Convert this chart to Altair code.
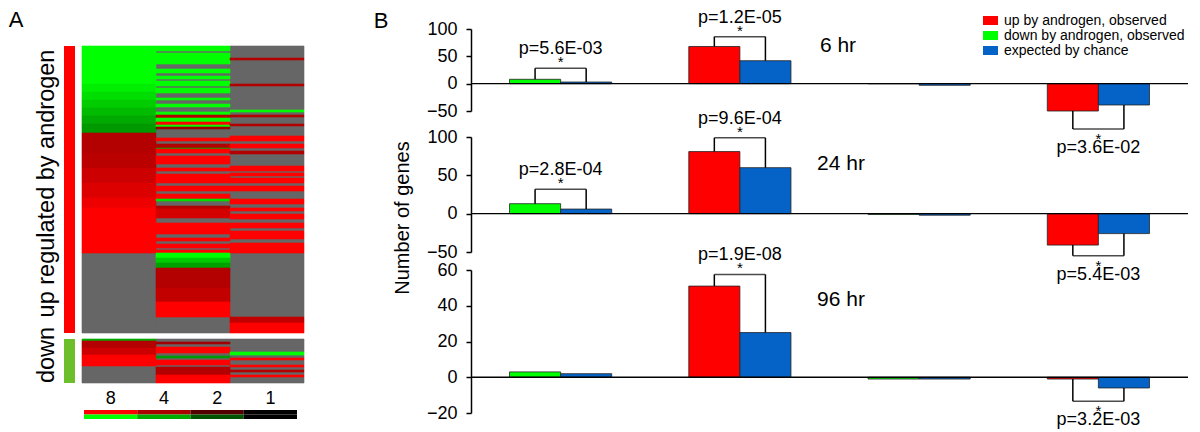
import altair as alt
import pandas as pd
import math

FONT = "Liberation Sans"

# ---------------- Panel A : heat map ----------------
heat_columns = ["6 hr", "24 hr", "96 hr"]
sections = ["up regulated by androgen", "down"]
section_colors = ["#ff0000", "#6cbf2a"]

# run-length encoded genes: (number of genes, log2 fold change; None = unchanged)
heat_up_6 = [(38, -3.0), (8, -2.8), (8, -2.6), (8, -2.4), (8, -2.2), (8, -2.0), (9, -1.8),
             (20, 2.1), (15, 2.2), (15, 2.4), (15, 2.6), (10, 2.8), (45, 3.0),
             (80, None)]
heat_up_24 = [(5, -3), (2, None), (11, -3), (5, None), (4, -3), (3, None), (3, -3), (2, None),
              (5, -3), (2, None), (5, -3), (5, None), (2, -3), (4, None), (3, -3), (5, None),
              (3, -3), (3, 2.1), (4, -3), (3, 3), (2, -3), (2, 1.8), (4, None),
              (5, None), (3, 3), (3, None), (4, 2.1), (1, -2), (4, 3), (3, None), (8, 3),
              (4, None), (3, 3), (3, None), (9, 3), (3, None), (5, 3), (3, None), (5, 3),
              (2, -2.6), (5, None), (3, 2.1), (9, 2.5), (5, None), (11, 3), (4, None), (3, 3),
              (3, None), (4, 3), (2, None), (3, 3),
              (5, -3), (5, -2.4), (5, -1.9), (20, 2.1), (14, 2.3), (15, 3), (16, None)]
heat_up_96 = [(12, None), (2, 2.1), (24, None), (2, 2.1), (24, None), (2, -3), (3, None),
              (2, 2.1), (7, None), (2, 2.1), (7, None),
              (3, None), (5, 3), (3, None), (4, 3), (3, None), (3, 2.1), (12, None), (5, 3),
              (2, None), (3, 3), (2, None), (5, 3), (3, None), (5, 3), (8, None), (5, 3),
              (4, None), (3, 3), (3, None), (5, 3), (4, None), (5, 3), (3, None), (8, 3),
              (4, None), (10, 3),
              (64, None), (6, 2.3), (10, 3)]
heat_dn_6 = [(2, -2.0), (7, 2.1), (7, 2.4), (11, 3), (17, None)]
heat_dn_24 = [(3, None), (2, 1.9), (3, None), (6, 3), (3, None), (2, -1.8), (2, None), (5, 3),
              (2, None), (8, 2.1), (8, 3)]
heat_dn_96 = [(13, None), (3, -3), (3, None), (2, 3), (5, None), (2, 3), (3, None), (2, 2.1),
              (3, None), (2, 3), (6, None)]

key_folds = [8, 4, 2, 1]
key_directions = ["up", "down"]

SECTION_GAP = 6    # blank rows between the two blocks
HEADER_ROWS = 17   # blank rows above the first gene (column titles)

heat_rows = []
section_rows = []
offset = 0
for sec, cols in [(sections[0], [heat_up_6, heat_up_24, heat_up_96]),
                  (sections[1], [heat_dn_6, heat_dn_24, heat_dn_96])]:
    n = sum(r[0] for r in cols[0])
    for col, runs in zip(heat_columns, cols):
        pos = offset
        for length, val in runs:
            heat_rows.append(dict(col=col, start=pos, end=pos + length,
                                  value=val if val is not None else 0.0,
                                  changed=val is not None))
            pos += length
    section_rows.append(dict(section=sec, start=offset, end=offset + n,
                             mid=offset + n / 2, ind="bar"))
    offset += n + SECTION_GAP
total_rows = offset - SECTION_GAP
heat_df = pd.DataFrame(heat_rows)
sec_df = pd.DataFrame(section_rows)

key_df = pd.DataFrame([dict(fold=str(f), dir=d, value=(1 if d == "up" else -1) * math.log2(f))
                       for f in key_folds for d in key_directions])

HEAT_H = total_rows + HEADER_ROWS      # one pixel per gene row
KEY_TOP = HEAT_H + 27
KEY_H = 9
PANEL_A_H = KEY_TOP + KEY_H
HEAT_W = 222

heat_scale = alt.Scale(domain=[-3, 0, 3], range=["#00ff00", "#000000", "#ff0000"],
                       interpolate="rgb")
row_scale = alt.Scale(domain=[-HEADER_ROWS, total_rows], range=[0, HEAT_H], nice=False, zero=False)

col_x_axis = alt.X("col:N", scale=alt.Scale(domain=heat_columns, paddingInner=0, paddingOuter=0),
                   axis=alt.Axis(orient="top", offset=-HEADER_ROWS, domain=False, ticks=False,
                                 labelFontSize=21, labelPadding=4, labelAngle=0, title=None,
                                 labelColor="black"))
col_x_noaxis = alt.X("col:N", scale=alt.Scale(domain=heat_columns, paddingInner=0, paddingOuter=0),
                     axis=None)

heat_gray = alt.Chart(heat_df).transform_filter("!datum.changed").mark_rect(
    color="#666666", stroke="#666666", strokeWidth=0.6).encode(
    x=col_x_noaxis,
    y=alt.Y("start:Q", scale=row_scale, axis=None),
    y2="end:Q",
)
heat_changed = alt.Chart(heat_df).transform_filter("datum.changed").mark_rect(strokeWidth=0.6).encode(
    x=col_x_axis,
    y=alt.Y("start:Q", scale=row_scale, axis=None),
    y2="end:Q",
    color=alt.Color("value:Q", scale=heat_scale, legend=None),
    stroke=alt.Stroke("value:Q", scale=heat_scale, legend=None),
)
heat_core = alt.layer(heat_gray, heat_changed)

ind_bars = alt.Chart(sec_df).mark_rect().encode(
    x=alt.X("ind:N", scale=alt.Scale(domain=["bar"], range=[-18, -7], paddingInner=0, paddingOuter=0),
            axis=None),
    y=alt.Y("start:Q", scale=row_scale, axis=None),
    y2="end:Q",
    color=alt.Color("section:N", scale=alt.Scale(domain=sections, range=section_colors), legend=None),
)
ind_text = alt.Chart(sec_df).mark_text(angle=270, fontSize=23.5, dx=6, color="black",
                                       baseline="middle", align="center").encode(
    x=alt.value(-35),
    y=alt.Y("mid:Q", scale=row_scale, axis=None),
    text="section:N",
)
letter_a = alt.Chart(pd.DataFrame({"t": ["A"]})).mark_text(fontSize=22, color="black").encode(
    x=alt.value(-66), y=alt.value(-9), text="t:N")
ind_core = alt.layer(ind_bars, ind_text, letter_a)

heat_block = alt.layer(heat_core, ind_core).resolve_scale(x="independent", color="independent")

key = alt.Chart(key_df).mark_rect().encode(
    x=alt.X("fold:N", scale=alt.Scale(domain=[str(f) for f in key_folds], range=[2, 215],
                                       paddingInner=0, paddingOuter=0),
            axis=alt.Axis(orient="top", offset=-KEY_TOP, domain=False, ticks=False, labelFontSize=18,
                          labelPadding=3, labelAngle=0, title=None, labelColor="black")),
    y=alt.Y("dir:N", scale=alt.Scale(domain=key_directions, range=[KEY_TOP, KEY_TOP + KEY_H],
                                     paddingInner=0, paddingOuter=0), axis=None),
    color=alt.Color("value:Q", scale=heat_scale, legend=None),
)

panelA = alt.layer(heat_block, key).resolve_scale(
    x="independent", y="independent", color="independent").properties(width=HEAT_W, height=PANEL_A_H)

# ---------------- Panel B : bar charts ----------------
bar_groups = ["g1", "g2", "g3", "g4"]
obs_direction = ["down", "up", "down", "up"]
series_labels = ["up by androgen, observed", "down by androgen, observed", "expected by chance"]
series_colors = ["#ff0000", "#00ff00", "#0563c8"]

obs_6hr = [8, 68, 0, -50]
exp_6hr = [3, 42, -3, -39]
obs_24hr = [13, 81, -1, -41]
exp_24hr = [6, 60, -2, -26]
obs_96hr = [3, 51, -1, -1]
exp_96hr = [2, 25, -1, -6]

sig_6hr_groups = ["g1", "g2", "g4"]
sig_6hr_levels = [28, 86, -83]
sig_6hr_p = ["p=5.6E-03", "p=1.2E-05", "p=3.6E-02"]
sig_24hr_groups = ["g1", "g2", "g4"]
sig_24hr_levels = [32, 99, -55]
sig_24hr_p = ["p=2.8E-04", "p=9.6E-04", "p=5.4E-03"]
sig_96hr_groups = ["g2", "g4"]
sig_96hr_levels = [57.5, -13.4]
sig_96hr_p = ["p=1.9E-08", "p=3.2E-03"]

PANEL_B_W = 717
# pixel bands of the three stacked sub-panels (top, bottom)
band_6 = (0, 82)
band_24 = (108, 223)
band_96 = (241, 384)

x_enc = alt.X("group:N", scale=alt.Scale(domain=bar_groups, paddingInner=0.43, paddingOuter=0.215),
              axis=None)
xo_enc = alt.XOffset("kind:N", scale=alt.Scale(domain=["obs", "exp"], paddingInner=0, paddingOuter=0))


def bar_panel(obs, exp, y_domain, y_ticks, band, sig_groups, sig_levels, sig_p,
              time_label, label_xy, show_legend, extra=()):
    bars = pd.DataFrame({
        "group": bar_groups * 2,
        "kind": ["obs"] * 4 + ["exp"] * 4,
        "value": obs + exp,
        "series": [series_labels[0] if d == "up" else series_labels[1] for d in obs_direction]
                  + [series_labels[2]] * 4,
    })
    idx = [bar_groups.index(g) for g in sig_groups]
    sig = pd.DataFrame({"group": sig_groups, "level": sig_levels, "p": sig_p,
                        "up": [lv > 0 for lv in sig_levels]})
    legs = pd.DataFrame({
        "group": sig_groups * 2,
        "kind": ["obs"] * len(idx) + ["exp"] * len(idx),
        "value": [obs[i] for i in idx] + [exp[i] for i in idx],
        "level": sig_levels * 2,
    })

    y_scale = alt.Scale(domain=y_domain, range=[band[1], band[0]], nice=False, zero=False)
    y_axis = alt.Axis(orient="left", values=y_ticks, tickSize=5, tickWidth=1.5, domainWidth=1.5,
                      domainColor="black", tickColor="black", labelFontSize=18, labelColor="black",
                      labelPadding=9, grid=False, title=None, labelFlush=False, labelOverlap=False)
    color_scale = alt.Scale(domain=series_labels, range=series_colors)
    if show_legend:
        color_enc = alt.Color("series:N", scale=color_scale, legend=alt.Legend(
            orient="none", legendX=512, legendY=-16, title=None,
            symbolType="M-1,-0.6H1V0.6H-1Z", symbolSize=225, labelFontSize=14,
            labelColor="black", rowPadding=0, labelOffset=6, symbolStrokeWidth=0,
            padding=0, labelLimit=0))
    else:
        color_enc = alt.Color("series:N", scale=color_scale, legend=None)

    yq = lambda f: alt.Y(f, scale=y_scale)

    bar_layer = alt.Chart(bars).mark_bar(stroke="#222222", strokeWidth=0.8).encode(
        x=x_enc, xOffset=xo_enc,
        y=alt.Y("value:Q", scale=y_scale, axis=y_axis),
        y2=alt.datum(0),
        color=color_enc,
    )
    zero = alt.Chart(pd.DataFrame({"z": [0]})).mark_rule(color="black", strokeWidth=1.3).encode(
        y=yq("z:Q"))
    leg_layer = alt.Chart(legs).mark_rule(color="black", strokeWidth=1.5).encode(
        x=x_enc, xOffset=xo_enc, y=yq("value:Q"), y2="level:Q")
    top_layer = alt.Chart(sig).mark_tick(color="black", thickness=1.5, size=51).encode(
        x=x_enc, y=yq("level:Q"))
    p_up = alt.Chart(sig).transform_filter("datum.up").mark_text(fontSize=18, dy=-19, color="black").encode(
        x=x_enc, y=yq("level:Q"), text="p:N")
    p_dn = alt.Chart(sig).transform_filter("!datum.up").mark_text(fontSize=18, dy=19, color="black").encode(
        x=x_enc, y=yq("level:Q"), text="p:N")
    s_up = alt.Chart(sig).transform_filter("datum.up").mark_text(fontSize=15, dy=-6, color="black").encode(
        x=x_enc, y=yq("level:Q"), text=alt.value("*"))
    s_dn = alt.Chart(sig).transform_filter("!datum.up").mark_text(fontSize=15, dy=10, color="black").encode(
        x=x_enc, y=yq("level:Q"), text=alt.value("*"))
    tl = alt.Chart(pd.DataFrame({"t": [time_label]})).mark_text(fontSize=21, color="black").encode(
        x=alt.value(label_xy[0]), y=alt.value(label_xy[1]), text="t:N")
    return alt.layer(bar_layer, zero, leg_layer, top_layer, p_up, p_dn, s_up, s_dn, tl, *extra)


letter_b = alt.Chart(pd.DataFrame({"t": ["B"]})).mark_text(fontSize=22, color="black").encode(
    x=alt.value(-90), y=alt.value(-8), text="t:N")
ytitle = alt.Chart(pd.DataFrame({"t": ["Number of genes"]})).mark_text(
    fontSize=20, angle=270, color="black").encode(x=alt.value(-68), y=alt.value(189), text="t:N")

p6 = bar_panel(obs_6hr, exp_6hr, [-50, 100], [-50, 0, 50, 100], band_6,
               sig_6hr_groups, sig_6hr_levels, sig_6hr_p, "6 hr", (367, 17), True, (letter_b,))
p24 = bar_panel(obs_24hr, exp_24hr, [-50, 100], [-50, 0, 50, 100], band_24,
                sig_24hr_groups, sig_24hr_levels, sig_24hr_p, "24 hr", (370, 135), False, (ytitle,))
p96 = bar_panel(obs_96hr, exp_96hr, [-20, 60], [-20, 0, 20, 40, 60], band_96,
                sig_96hr_groups, sig_96hr_levels, sig_96hr_p, "96 hr", (370, 271), False)

panelB = alt.layer(p6, p24, p96).resolve_scale(y="independent").resolve_axis(y="independent").properties(
    width=PANEL_B_W, height=band_96[1])

chart = alt.hconcat(panelA, panelB, spacing=167, bounds="flush").resolve_scale(
    color="independent", stroke="independent", x="independent", y="independent").properties(
    padding=0).configure(font=FONT).configure_view(strokeWidth=0)

chart.save("out.html", embed_options={"renderer": "svg", "actions": False})
